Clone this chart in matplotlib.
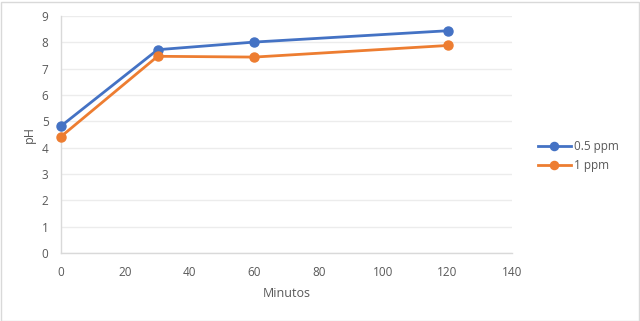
import matplotlib
matplotlib.use("Agg")
import matplotlib.pyplot as plt
from matplotlib.patches import Rectangle

minutes = [0, 30, 60, 120]
ph_05 = [4.82, 7.72, 8.01, 8.44]
ph_1 = [4.42, 7.47, 7.44, 7.88]
series_names = ["0.5 ppm", "1 ppm"]
x_ticks = [0, 20, 40, 60, 80, 100, 120, 140]
y_ticks = list(range(0, 10))

plt.rcParams['font.family'] = ['Open Sans', 'DejaVu Sans']

fig = plt.figure(figsize=(6.4, 3.21), dpi=100)
fig.patches.append(Rectangle((0.5/640, 0.5/321), 638/640, 319/321, transform=fig.transFigure,
                             fill=False, edgecolor='#d9d9d9', linewidth=1))
ax = fig.add_axes([61/640, 1 - 253/321, (512-61)/640, (253-16)/321])

ax.plot(minutes, ph_05, color='#4472c4', linewidth=2, marker='o', markersize=6.5, label=series_names[0], zorder=3, clip_on=False)
ax.plot(minutes, ph_1, color='#ed7d31', linewidth=2, marker='o', markersize=6.5, label=series_names[1], zorder=3, clip_on=False)

ax.set_xlim(0, 140)
ax.set_ylim(0, 9)
ax.set_xticks(x_ticks)
ax.set_yticks(y_ticks)
ax.grid(axis='y', color='#ececec', linewidth=1)
ax.set_axisbelow(True)
for s in ['top', 'right']:
    ax.spines[s].set_visible(False)
for s in ['left', 'bottom']:
    ax.spines[s].set_color('#d9d9d9')
    ax.spines[s].set_linewidth(1)
ax.tick_params(length=0, labelsize=8.5, colors='#595959', pad=9)
ax.set_xlabel('Minutos', fontsize=9, color='#595959', labelpad=6)
ax.set_ylabel('pH', fontsize=9, color='#595959', labelpad=4)

leg = fig.legend(loc='center left', bbox_to_anchor=(527/640, 1 - 156/321), frameon=False,
                 fontsize=8.5, labelcolor='#595959', handlelength=2.8, handletextpad=0.3,
                 labelspacing=0.5, markerscale=0.9)

fig.savefig('out.png', dpi=100)
